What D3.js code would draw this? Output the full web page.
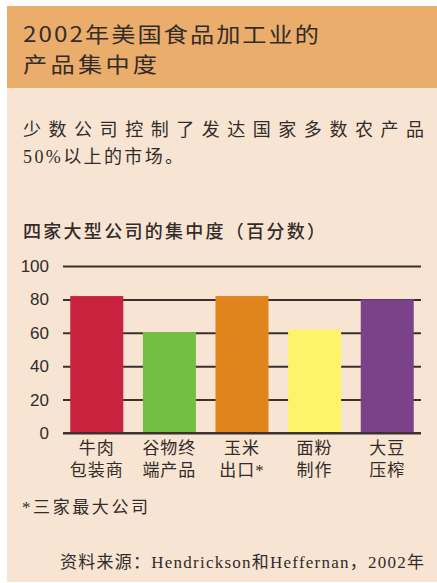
<!DOCTYPE html>
<html>
<head>
<meta charset="utf-8">
<script src="https://cdn.jsdelivr.net/npm/d3@7"></script>
<style>
  body { margin: 0; background: #fff; }
  svg { display: block; }
</style>
</head>
<body>
<div id="chart"></div>
<script>
// data
const categories = ["beef", "grain", "corn", "flour", "soy"];
const labelLine1 = ["牛肉", "谷物终", "玉米", "面粉", "大豆"];
const labelLine2 = ["包装商", "端产品", "出口*", "制作", "压榨"];
const values = [82, 60.5, 82, 62, 80];
const barColors = ["#c8223f", "#74be44", "#e0841c", "#fff36a", "#7a4389"];
const yTicks = [0, 20, 40, 60, 80, 100];

const W = 437, H = 583;
const sans = "'Noto Sans CJK SC', sans-serif";
const serif = "'Liberation Serif', 'DejaVu Serif', 'Noto Sans CJK SC', serif";
const ink = "#332c2a";

const svg = d3.select("#chart").append("svg")
    .attr("width", W)
    .attr("height", H);

// panel backgrounds
svg.append("rect").attr("x", 7).attr("y", 88).attr("width", W - 7).attr("height", H - 88 - 1)
    .attr("fill", "#f7e4d2");
svg.append("rect").attr("x", 7).attr("y", 6).attr("width", W - 7).attr("height", 82)
    .attr("fill", "#ebad6b");

function label(txt, xx, yy, font, size, len, anchor) {
  const t = svg.append("text").attr("x", xx).attr("y", yy)
      .style("font-family", font).style("font-size", size + "px")
      .attr("fill", ink)
      .attr("text-anchor", anchor || "start")
      .text(txt);
  if (len) t.attr("textLength", len).attr("lengthAdjust", "spacing");
  return t;
}

// header title, glyphs a bit wider than tall like the reference
const sx = 1.15;
svg.append("text")
    .attr("transform", `translate(23,42) scale(${sx},1)`)
    .style("font-family", sans).style("font-size", "21px").attr("fill", ink)
    .attr("textLength", 296 / sx).attr("lengthAdjust", "spacing")
    .text("2002年美国食品加工业的");
svg.append("text")
    .attr("transform", `translate(23,72) scale(${sx},1)`)
    .style("font-family", sans).style("font-size", "21px").attr("fill", ink)
    .attr("textLength", 134 / sx).attr("lengthAdjust", "spacing")
    .text("产品集中度");

// subtitle
label("少数公司控制了发达国家多数农产品", 23, 136, serif, 18, 401);
label("50%以上的市场。", 23, 163, serif, 18, 160);

// chart title
label("四家大型公司的集中度（百分数）", 23, 238, sans, 18, 302).style("font-weight", 500);

const margin = {left: 63, right: 16, top: 266, bottom: 150};

const x = d3.scaleBand()
    .domain(categories)
    .range([margin.left, W - margin.right])
    .paddingInner(0.27)
    .paddingOuter(0.1);

const y = d3.scaleLinear()
    .domain([0, 100])
    .range([H - margin.bottom, margin.top]);

// gridlines + tick labels
const yAxis = svg.append("g")
    .attr("transform", `translate(${margin.left},0)`)
    .call(d3.axisLeft(y).tickValues(yTicks).tickSize(-(W - margin.right - margin.left)).tickPadding(14));
yAxis.select(".domain").remove();
yAxis.selectAll(".tick line").attr("stroke", "#3a3030").attr("stroke-width", 2);
yAxis.selectAll(".tick text")
    .style("font-family", "'Liberation Sans', Arial, sans-serif")
    .style("font-size", "17px")
    .attr("fill", ink);

// bars
svg.append("g").selectAll("rect")
    .data(categories)
    .join("rect")
    .attr("x", d => x(d))
    .attr("width", x.bandwidth())
    .attr("y", (d, i) => y(values[i]))
    .attr("height", (d, i) => y(0) - y(values[i]))
    .attr("fill", (d, i) => barColors[i]);

// baseline on top of bars
svg.append("line")
    .attr("x1", margin.left).attr("x2", W - margin.right)
    .attr("y1", y(0)).attr("y2", y(0))
    .attr("stroke", "#3a3030").attr("stroke-width", 2);

// category labels
const lab = svg.append("g").selectAll("text")
    .data(categories)
    .join("text")
    .attr("text-anchor", "middle")
    .style("font-family", serif)
    .style("font-size", "17px")
    .style("letter-spacing", "1px")
    .attr("fill", ink);
lab.append("tspan")
    .attr("x", d => x(d) + x.bandwidth() / 2)
    .attr("y", 454)
    .text((d, i) => labelLine1[i]);
lab.append("tspan")
    .attr("x", d => x(d) + x.bandwidth() / 2)
    .attr("y", 476)
    .text((d, i) => labelLine2[i]);

// footnote
label("*三家最大公司", 22, 513, serif, 17, 126);

// source
label("资料来源：Hendrickson和Heffernan，2002年", 424, 568, serif, 17, 364, "end");
</script>
</body>
</html>
